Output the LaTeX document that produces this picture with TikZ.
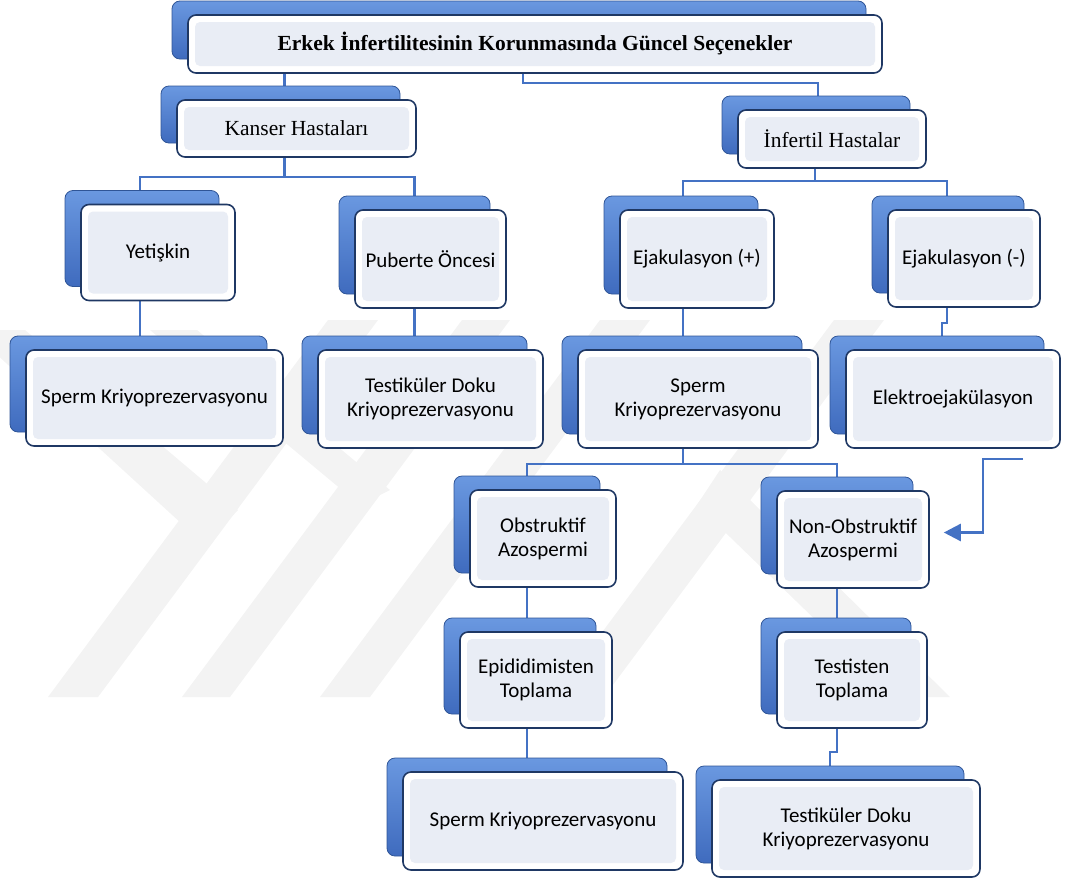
\documentclass[tikz,border=0pt]{standalone}
\usepackage{fontspec}
\setmainfont{Liberation Serif}
\newfontfamily\calibri{Carlito}
\usetikzlibrary{shadows,backgrounds,arrows.meta}
\definecolor{linkblue}{HTML}{4472C4}
\definecolor{backtop}{HTML}{6A98E0}
\definecolor{backbot}{HTML}{3F6BBE}
\definecolor{backedge}{HTML}{2F5597}
\definecolor{frontedge}{HTML}{1F3864}
\definecolor{panel}{HTML}{E9EDF5}
\definecolor{wmgray}{HTML}{F3F3F3}
\tikzset{
  box/.style={draw=frontedge, line width=1.6pt, rounded corners=8pt, fill=white,
              inner sep=0pt, align=center, font=\calibri\fontsize{21}{24}\selectfont,
              general shadow={shadow xshift=-16pt, shadow yshift=14pt,
                              top color=backtop, bottom color=backbot,
                              draw=backedge, line width=0.8pt},
              path picture={\fill[panel, rounded corners=5pt]
                ([shift={(7pt,7pt)}]path picture bounding box.south west) rectangle
                ([shift={(-7pt,-7pt)}]path picture bounding box.north east);}},
  serifbox/.style={box, font=\fontsize{21.5}{24}\selectfont},
  link/.style={draw=linkblue, line width=2.6pt},
  wm/.style={fill=wmgray, draw=none},
}

\begin{document}
\begin{tikzpicture}[x=1pt, y=-1pt]
  \useasboundingbox (0,0) rectangle (1070,881);

  % watermark
  \begin{scope}[on background layer]
    \fill[wm] (48,697) -- (98,697) -- (378,320) -- (328,320) -- cycle;
    \fill[wm] (-30,330) -- (25,330) -- (238,510) -- (205,545) -- cycle;
    \fill[wm] (182,697) -- (230,697) -- (510,320) -- (462,320) -- cycle;
    \fill[wm] (150,330) -- (197,330) -- (390,490) -- (360,505) -- cycle;
    \fill[wm] (320,697) -- (370,697) -- (650,320) -- (600,320) -- cycle;
    \fill[wm] (554,697) -- (604,697) -- (884,320) -- (834,320) -- cycle;
    \fill[wm] (720,470) -- (750,500) -- (950,697) -- (895,697) -- (697,505) -- cycle;
  \end{scope}

  % boxes
  \node[serifbox, minimum width=694pt, minimum height=58pt] (tit) at (535,44)
    {\textbf{Erkek İnfertilitesinin Korunmasında Güncel Seçenekler}};
  \node[serifbox, minimum width=239pt, minimum height=57pt] (kanser) at (296.5,128.5) {Kanser Hastaları};
  \node[serifbox, minimum width=188pt, minimum height=58pt] (infertil) at (832,139) {İnfertil Hastalar};

  \node[box, minimum width=154pt, minimum height=96pt] (yetiskin) at (158,252.5) {Yetişkin};
  \node[box, minimum width=151pt, minimum height=98pt] (puberte) at (430.5,259) {Puberte Öncesi};
  \node[box, minimum width=154pt, minimum height=98pt] (ejakpos) at (697,259) {Ejakulasyon (+)};
  \node[box, minimum width=152pt, minimum height=97pt] (ejakneg) at (964,258.5) {Ejakulasyon (-)};

  \node[box, minimum width=257pt, minimum height=96pt] (spermL) at (154.5,398) {Sperm Kriyoprezervasyonu};
  \node[box, minimum width=225pt, minimum height=98pt] (testikM) at (430.5,399) {Testiküler Doku\\Kriyoprezervasyonu};
  \node[box, minimum width=240pt, minimum height=98pt] (spermC) at (698,399) {Sperm\\Kriyoprezervasyonu};
  \node[box, minimum width=214pt, minimum height=98pt] (elektro) at (953,399) {Elektroejakülasyon};

  \node[box, minimum width=146pt, minimum height=97pt] (obstr) at (543,538.5) {Obstruktif\\Azospermi};
  \node[box, minimum width=152pt, minimum height=97pt] (nonobstr) at (853,539.5) {Non-Obstruktif\\Azospermi};

  \node[box, minimum width=152pt, minimum height=96pt] (epid) at (536,680) {Epididimisten\\Toplama};
  \node[box, minimum width=150pt, minimum height=96pt] (testisten) at (852,680) {Testisten\\Toplama};

  \node[box, minimum width=280pt, minimum height=98pt] (spermB) at (543,821) {Sperm Kriyoprezervasyonu};
  \node[box, minimum width=268pt, minimum height=97pt] (testikB) at (846,828.5) {Testiküler Doku\\Kriyoprezervasyonu};

  \coordinate (elektail) at (1023,459);

  % connectors
  \begin{scope}[on background layer]
    \draw[link] ([xshift=-12pt]kanser.north) -- ([xshift=-12pt]kanser.north |- tit.south);
    \draw[link] ([xshift=-12pt]tit.south) -- ++(0,9) -| ([xshift=-14pt]infertil.north);
    \draw[link] ([xshift=-12pt]kanser.south) -- ++(0,19) -| ([xshift=-18pt]yetiskin.north);
    \draw[link] ([xshift=-12pt]kanser.south) -- ++(0,19) -| ([xshift=-16pt]puberte.north);
    \draw[link] ([xshift=-17pt]infertil.south) -- ++(0,12) -| ([xshift=-14pt]ejakpos.north);
    \draw[link] ([xshift=-17pt]infertil.south) -- ++(0,12) -| ([xshift=-17pt]ejakneg.north);
    \draw[link] ([xshift=-18pt]yetiskin.south) -- ([xshift=-18pt]yetiskin.south |- spermL.north);
    \draw[link] ([xshift=-16pt]puberte.south) -- ([xshift=-16pt]puberte.south |- testikM.north);
    \draw[link] ([xshift=-14pt]ejakpos.south) -- ([xshift=-14pt]ejakpos.south |- spermC.north);
    \draw[link] ([xshift=-17pt]ejakneg.south) -- ++(0,15) -| ([xshift=-11pt]elektro.north);
    \draw[link] ([xshift=-15pt]spermC.south) -- ++(0,15) -| ([xshift=-16pt]obstr.north);
    \draw[link] ([xshift=-15pt]spermC.south) -- ++(0,15) -| ([xshift=-16pt]nonobstr.north);
    \draw[link] ([xshift=-16pt]obstr.south) -- ([xshift=-16pt]obstr.south |- epid.north);
    \draw[link] ([xshift=-16pt]nonobstr.south) -- ([xshift=-16pt]nonobstr.south |- testisten.north);
    \draw[link] ([xshift=-9pt]epid.south) -- ([xshift=-9pt]epid.south |- spermB.north);
    \draw[link] ([xshift=-15pt]testisten.south) -- ++(0,23) -| ([xshift=-16pt]testikB.north);
  \end{scope}
  \draw[link, -{Triangle[length=17pt, width=17pt]}, shorten >=14pt]
    (elektail) -- ++(-40,0) |- ([yshift=7pt]nonobstr.east);
\end{tikzpicture}
\end{document}
